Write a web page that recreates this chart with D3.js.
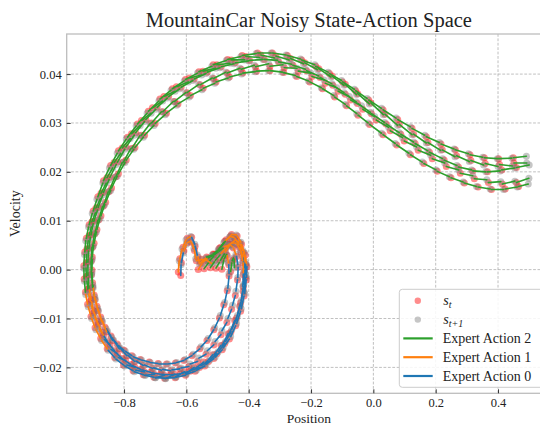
<!DOCTYPE html>
<html>
<head>
<meta charset="utf-8">
<script src="https://d3js.org/d3.v7.min.js"></script>
<style>
body { margin: 0; background: #fff; }
text { font-family: "Liberation Serif", "DejaVu Serif", serif; fill: #222; }
</style>
</head>
<body>
<script>
//axis limits and tick values
var xLim = [-0.984, 0.570],
    yLim = [-0.0253, 0.0482];
var xTicks = [-0.8, -0.6, -0.4, -0.2, 0.0, 0.2, 0.4];
var yTicks = [-0.02, -0.01, 0.00, 0.01, 0.02, 0.03, 0.04];
var actionNames = ["Expert Action 0", "Expert Action 1", "Expert Action 2"];
var actionColors = ["#1f77b4", "#ff7f0e", "#2ca02c"];

//transitions: [position_t, velocity_t, position_t+1, velocity_t+1, action]
var episode1 = [
    [-0.626,-0.0005,-0.623,0.0018,1],[-0.621,0.0022,-0.614,0.0042,1],[-0.611,0.0046,-0.601,0.0061,1],
    [-0.597,0.0064,-0.586,0.0068,1],[-0.583,0.0066,-0.573,0.0052,0],[-0.572,0.0048,-0.565,0.0030,0],
    [-0.563,0.0026,-0.558,0.0012,1],[-0.555,0.0014,-0.537,0.0024,1],[-0.535,0.0026,-0.517,0.0030,2],
    [-0.514,0.0032,-0.498,0.0040,2],[-0.495,0.0043,-0.480,0.0055,2],[-0.477,0.0058,-0.462,0.0066,1],
    [-0.459,0.0068,-0.447,0.0066,1],[-0.444,0.0064,-0.431,0.0050,1],[-0.428,0.0046,-0.420,0.0028,1],
    [-0.418,0.0024,-0.414,0.0004,0],
    [-0.413,-0.0002,-0.416,-0.0030,0],[-0.417,-0.0035,-0.424,-0.0063,0],[-0.426,-0.0068,-0.436,-0.0094,0],
    [-0.439,-0.0099,-0.454,-0.0122,0],[-0.457,-0.0127,-0.474,-0.0147,0],[-0.477,-0.0151,-0.498,-0.0168,0],
    [-0.502,-0.0172,-0.525,-0.0185,0],[-0.529,-0.0188,-0.554,-0.0197,0],[-0.558,-0.0200,-0.584,-0.0206,0],
    [-0.588,-0.0208,-0.615,-0.0212,0],[-0.619,-0.0213,-0.647,-0.0215,0],[-0.651,-0.0215,-0.679,-0.0214,0],
    [-0.683,-0.0214,-0.711,-0.0211,0],[-0.715,-0.0210,-0.743,-0.0205,0],[-0.747,-0.0204,-0.774,-0.0196,0],
    [-0.778,-0.0194,-0.802,-0.0184,0],[-0.806,-0.0182,-0.828,-0.0169,0],[-0.831,-0.0166,-0.850,-0.0151,0],
    [-0.853,-0.0148,-0.869,-0.0131,0],[-0.871,-0.0128,-0.884,-0.0110,1],[-0.886,-0.0106,-0.896,-0.0088,1],
    [-0.898,-0.0084,-0.904,-0.0066,1],[-0.906,-0.0061,-0.911,-0.0042,1],[-0.913,-0.0038,-0.915,-0.0017,2],
    [-0.916,-0.0012,-0.916,0.0010,2],
    [-0.916,0.0015,-0.914,0.0038,2],[-0.913,0.0043,-0.908,0.0066,2],[-0.906,0.0071,-0.899,0.0094,2],
    [-0.897,0.0099,-0.885,0.0122,2],[-0.883,0.0127,-0.868,0.0153,2],[-0.866,0.0158,-0.848,0.0184,2],
    [-0.845,0.0189,-0.825,0.0215,2],[-0.821,0.0220,-0.798,0.0246,2],[-0.794,0.0251,-0.767,0.0275,2],
    [-0.763,0.0280,-0.734,0.0303,2],[-0.730,0.0307,-0.698,0.0328,2],[-0.694,0.0332,-0.661,0.0351,2],
    [-0.657,0.0354,-0.621,0.0370,2],[-0.617,0.0373,-0.579,0.0387,2],[-0.575,0.0390,-0.537,0.0401,2],
    [-0.533,0.0404,-0.492,0.0413,2],[-0.488,0.0415,-0.447,0.0421,2],[-0.443,0.0423,-0.400,0.0427,2],
    [-0.397,0.0428,-0.354,0.0430,2],[-0.350,0.0430,-0.307,0.0428,2],[-0.304,0.0425,-0.262,0.0420,2],
    [-0.258,0.0418,-0.218,0.0410,2],[-0.214,0.0407,-0.175,0.0396,2],[-0.171,0.0393,-0.133,0.0380,2],
    [-0.130,0.0377,-0.094,0.0362,2],[-0.090,0.0359,-0.055,0.0343,2],[-0.051,0.0340,-0.010,0.0322,2],
    [-0.006,0.0319,0.036,0.0301,2],[0.041,0.0298,0.083,0.0280,2],[0.088,0.0277,0.129,0.0261,2],
    [0.134,0.0258,0.175,0.0243,2],[0.180,0.0240,0.222,0.0227,2],[0.227,0.0224,0.268,0.0213,2],
    [0.273,0.0210,0.315,0.0204,2],[0.319,0.0202,0.361,0.0200,2],[0.366,0.0200,0.407,0.0202,2],
    [0.412,0.0204,0.454,0.0208,2],[0.459,0.0209,0.500,0.0214,2]
];

var episode2 = [
    [-0.543,0.0002,-0.529,0.0014,2],[-0.526,0.0017,-0.512,0.0028,2],[-0.509,0.0031,-0.493,0.0043,2],
    [-0.490,0.0046,-0.475,0.0058,2],[-0.472,0.0061,-0.457,0.0070,1],[-0.455,0.0072,-0.440,0.0071,1],
    [-0.437,0.0069,-0.425,0.0056,1],[-0.423,0.0052,-0.413,0.0034,1],[-0.411,0.0030,-0.407,0.0010,1],
    [-0.406,0.0006,-0.407,-0.0016,0],
    [-0.408,-0.0021,-0.413,-0.0049,0],[-0.415,-0.0054,-0.424,-0.0080,0],[-0.426,-0.0085,-0.439,-0.0110,0],
    [-0.442,-0.0115,-0.458,-0.0137,0],[-0.462,-0.0142,-0.482,-0.0160,0],[-0.485,-0.0164,-0.508,-0.0179,0],
    [-0.512,-0.0182,-0.537,-0.0194,0],[-0.541,-0.0197,-0.568,-0.0206,0],[-0.572,-0.0208,-0.600,-0.0214,0],
    [-0.603,-0.0216,-0.633,-0.0220,0],[-0.636,-0.0221,-0.666,-0.0222,0],[-0.670,-0.0222,-0.700,-0.0221,0],
    [-0.704,-0.0220,-0.734,-0.0216,0],[-0.738,-0.0215,-0.767,-0.0209,0],[-0.771,-0.0207,-0.798,-0.0197,0],
    [-0.802,-0.0195,-0.826,-0.0183,0],[-0.830,-0.0180,-0.851,-0.0165,0],[-0.854,-0.0162,-0.872,-0.0145,1],
    [-0.875,-0.0141,-0.890,-0.0123,1],[-0.893,-0.0119,-0.904,-0.0100,1],[-0.906,-0.0096,-0.915,-0.0076,1],
    [-0.917,-0.0071,-0.923,-0.0051,1],[-0.924,-0.0046,-0.927,-0.0024,2],[-0.928,-0.0019,-0.929,0.0003,2],
    [-0.929,0.0008,-0.927,0.0031,2],[-0.926,0.0036,-0.923,0.0059,2],[-0.921,0.0064,-0.914,0.0087,2],
    [-0.912,0.0092,-0.902,0.0115,2],[-0.899,0.0120,-0.887,0.0144,2],[-0.884,0.0149,-0.868,0.0177,2],
    [-0.866,0.0182,-0.847,0.0208,2],[-0.843,0.0213,-0.822,0.0238,2],[-0.818,0.0243,-0.793,0.0267,2],
    [-0.789,0.0271,-0.761,0.0294,2],[-0.757,0.0298,-0.726,0.0320,2],[-0.722,0.0324,-0.688,0.0345,2],
    [-0.685,0.0349,-0.649,0.0367,2],[-0.645,0.0370,-0.607,0.0386,2],[-0.603,0.0389,-0.564,0.0402,2],
    [-0.560,0.0405,-0.518,0.0416,2],[-0.514,0.0419,-0.472,0.0428,2],[-0.468,0.0430,-0.425,0.0436,2],
    [-0.421,0.0438,-0.376,0.0442,2],[-0.372,0.0443,-0.328,0.0443,2],[-0.324,0.0443,-0.280,0.0439,2],
    [-0.276,0.0438,-0.234,0.0431,2],[-0.230,0.0429,-0.188,0.0419,2],[-0.185,0.0416,-0.145,0.0404,2],
    [-0.141,0.0401,-0.102,0.0387,2],[-0.099,0.0384,-0.061,0.0369,2],[-0.057,0.0366,-0.020,0.0350,2],
    [-0.015,0.0347,0.026,0.0330,2],[0.031,0.0327,0.073,0.0310,2],[0.078,0.0307,0.119,0.0292,2],
    [0.124,0.0289,0.165,0.0275,2],[0.170,0.0272,0.212,0.0260,2],[0.217,0.0257,0.259,0.0247,2],
    [0.263,0.0245,0.305,0.0237,2],[0.310,0.0235,0.351,0.0230,2],[0.356,0.0229,0.398,0.0227,2],
    [0.402,0.0227,0.444,0.0228,2],[0.449,0.0229,0.491,0.0232,2]
];

var episode3 = [
    [-0.486,0.0001,-0.480,0.0019,2],[-0.479,0.0022,-0.471,0.0031,2],[-0.469,0.0029,-0.465,0.0014,1],
    [-0.464,0.0010,-0.463,-0.0008,0],
    [-0.463,-0.0013,-0.467,-0.0038,0],[-0.469,-0.0043,-0.477,-0.0067,0],[-0.480,-0.0072,-0.491,-0.0094,0],
    [-0.494,-0.0099,-0.509,-0.0119,0],[-0.512,-0.0123,-0.530,-0.0141,0],[-0.534,-0.0145,-0.553,-0.0158,0],
    [-0.557,-0.0162,-0.578,-0.0173,0],[-0.582,-0.0176,-0.604,-0.0184,0],[-0.608,-0.0186,-0.631,-0.0190,0],
    [-0.635,-0.0191,-0.660,-0.0193,0],[-0.664,-0.0193,-0.688,-0.0193,0],[-0.691,-0.0192,-0.716,-0.0190,0],
    [-0.719,-0.0189,-0.744,-0.0185,0],[-0.748,-0.0184,-0.771,-0.0178,0],[-0.775,-0.0176,-0.796,-0.0167,0],
    [-0.800,-0.0165,-0.819,-0.0155,0],[-0.822,-0.0152,-0.840,-0.0139,0],[-0.842,-0.0136,-0.858,-0.0121,0],
    [-0.861,-0.0118,-0.873,-0.0101,1],[-0.875,-0.0097,-0.885,-0.0079,1],[-0.887,-0.0075,-0.894,-0.0056,1],
    [-0.896,-0.0052,-0.900,-0.0032,2],[-0.901,-0.0027,-0.903,-0.0006,2],[-0.903,-0.0001,-0.902,0.0021,2],
    [-0.902,0.0026,-0.898,0.0049,2],[-0.896,0.0054,-0.889,0.0077,2],[-0.887,0.0082,-0.877,0.0105,2],
    [-0.874,0.0110,-0.862,0.0133,2],[-0.859,0.0138,-0.843,0.0162,2],[-0.840,0.0167,-0.822,0.0191,2],
    [-0.818,0.0196,-0.797,0.0219,2],[-0.793,0.0224,-0.769,0.0246,2],[-0.765,0.0250,-0.738,0.0271,2],
    [-0.734,0.0275,-0.704,0.0295,2],[-0.700,0.0299,-0.668,0.0317,2],[-0.664,0.0320,-0.631,0.0336,2],
    [-0.627,0.0339,-0.591,0.0353,2],[-0.587,0.0356,-0.550,0.0368,2],[-0.546,0.0371,-0.509,0.0381,2],
    [-0.505,0.0384,-0.466,0.0392,2],[-0.462,0.0394,-0.423,0.0400,2],[-0.419,0.0402,-0.379,0.0405,2],
    [-0.375,0.0406,-0.336,0.0407,2],[-0.332,0.0407,-0.292,0.0404,2],[-0.288,0.0403,-0.250,0.0397,2],
    [-0.246,0.0395,-0.208,0.0386,2],[-0.204,0.0384,-0.167,0.0372,2],[-0.163,0.0370,-0.127,0.0356,2],
    [-0.124,0.0353,-0.090,0.0338,2],[-0.086,0.0335,-0.053,0.0319,2],[-0.049,0.0316,-0.017,0.0300,2],
    [-0.012,0.0297,0.026,0.0279,2],[0.031,0.0276,0.070,0.0258,2],[0.075,0.0255,0.114,0.0238,2],
    [0.119,0.0235,0.157,0.0220,2],[0.162,0.0217,0.201,0.0204,2],[0.205,0.0201,0.244,0.0190,2],
    [0.249,0.0188,0.288,0.0179,2],[0.292,0.0177,0.331,0.0170,2],[0.336,0.0169,0.375,0.0165,2],
    [0.379,0.0164,0.418,0.0164,2],[0.423,0.0165,0.462,0.0169,2],[0.466,0.0170,0.497,0.0175,2]
];

var episode4 = [
    [-0.505,0.0003,-0.494,0.0015,2],[-0.491,0.0019,-0.478,0.0032,2],[-0.475,0.0036,-0.462,0.0049,1],
    [-0.459,0.0052,-0.446,0.0059,1],[-0.443,0.0061,-0.431,0.0056,1],[-0.428,0.0053,-0.419,0.0039,1],
    [-0.417,0.0035,-0.411,0.0016,1],[-0.410,0.0011,-0.410,-0.0010,0],
    [-0.411,-0.0016,-0.415,-0.0045,0],[-0.418,-0.0044,-0.427,-0.0074,0],[-0.429,-0.0075,-0.441,-0.0104,0],
    [-0.445,-0.0104,-0.462,-0.0131,0],[-0.466,-0.0131,-0.485,-0.0155,0],[-0.489,-0.0155,-0.511,-0.0174,0],
    [-0.515,-0.0174,-0.540,-0.0192,0],[-0.544,-0.0189,-0.571,-0.0202,0],[-0.575,-0.0200,-0.602,-0.0213,0],
    [-0.606,-0.0209,-0.634,-0.0219,0],[-0.638,-0.0214,-0.667,-0.0223,0],[-0.671,-0.0216,-0.699,-0.0221,0],
    [-0.703,-0.0214,-0.731,-0.0216,0],[-0.735,-0.0209,-0.762,-0.0206,0],[-0.766,-0.0199,-0.791,-0.0195,0],
    [-0.795,-0.0186,-0.818,-0.0180,0],[-0.821,-0.0172,-0.842,-0.0163,0],[-0.845,-0.0154,-0.863,-0.0143,0],
    [-0.866,-0.0134,-0.880,-0.0121,1],[-0.883,-0.0112,-0.894,-0.0097,1],[-0.897,-0.0088,-0.905,-0.0074,1],
    [-0.908,-0.0064,-0.914,-0.0050,1],[-0.916,-0.0040,-0.919,-0.0024,2],[-0.921,-0.0014,-0.922,0.0003,2],
    [-0.921,0.0014,-0.920,0.0031,2],[-0.919,0.0042,-0.915,0.0059,2],[-0.912,0.0070,-0.905,0.0087,2],
    [-0.903,0.0098,-0.892,0.0116,2],[-0.890,0.0126,-0.876,0.0145,2],[-0.874,0.0156,-0.857,0.0177,2],
    [-0.855,0.0188,-0.836,0.0208,2],[-0.832,0.0219,-0.810,0.0238,2],[-0.806,0.0249,-0.780,0.0268,2],
    [-0.776,0.0278,-0.748,0.0295,2],[-0.744,0.0305,-0.713,0.0320,2],[-0.709,0.0331,-0.676,0.0345,2],
    [-0.672,0.0354,-0.636,0.0365,2],[-0.632,0.0374,-0.594,0.0384,2],[-0.590,0.0392,-0.551,0.0398,2],
    [-0.547,0.0406,-0.506,0.0412,2],[-0.502,0.0419,-0.460,0.0422,2],[-0.456,0.0429,-0.413,0.0429,2],
    [-0.409,0.0436,-0.365,0.0434,2],[-0.361,0.0439,-0.317,0.0433,2],[-0.313,0.0437,-0.270,0.0429,2],
    [-0.266,0.0432,-0.224,0.0421,2],[-0.220,0.0423,-0.179,0.0409,2],[-0.175,0.0411,-0.136,0.0394,2],
    [-0.132,0.0396,-0.094,0.0377,2],[-0.090,0.0379,-0.054,0.0358,2],[-0.050,0.0360,-0.013,0.0339,2],
    [-0.008,0.0341,0.032,0.0317,2],[0.037,0.0318,0.078,0.0295,2],[0.083,0.0297,0.124,0.0276,2],
    [0.129,0.0277,0.170,0.0259,2],[0.175,0.0260,0.216,0.0244,2],[0.221,0.0245,0.262,0.0231,2],
    [0.267,0.0233,0.308,0.0221,2],[0.313,0.0223,0.354,0.0214,2],[0.359,0.0217,0.400,0.0211,2],
    [0.405,0.0215,0.446,0.0212,2],[0.451,0.0218,0.492,0.0218,2]
];

var episode5 = [
    [-0.562,0.0000,-0.550,0.0012,1],[-0.547,0.0015,-0.533,0.0022,1],[-0.530,0.0024,-0.515,0.0029,2],
    [-0.512,0.0031,-0.498,0.0036,2],[-0.495,0.0038,-0.482,0.0044,2],[-0.479,0.0047,-0.466,0.0050,1],
    [-0.463,0.0052,-0.452,0.0047,1],[-0.449,0.0044,-0.441,0.0031,1],[-0.439,0.0027,-0.435,0.0010,0],
    [-0.434,0.0005,-0.435,-0.0016,0],
    [-0.436,-0.0021,-0.441,-0.0044,0],[-0.443,-0.0053,-0.452,-0.0073,0],[-0.455,-0.0081,-0.467,-0.0100,0],
    [-0.470,-0.0108,-0.486,-0.0125,0],[-0.489,-0.0133,-0.508,-0.0147,0],[-0.512,-0.0154,-0.533,-0.0166,0],
    [-0.537,-0.0173,-0.560,-0.0181,0],[-0.564,-0.0188,-0.588,-0.0193,0],[-0.592,-0.0198,-0.617,-0.0201,0],
    [-0.621,-0.0203,-0.646,-0.0205,0],[-0.650,-0.0207,-0.676,-0.0204,0],[-0.680,-0.0206,-0.705,-0.0201,0],
    [-0.709,-0.0202,-0.734,-0.0195,0],[-0.738,-0.0196,-0.762,-0.0187,0],[-0.766,-0.0188,-0.788,-0.0175,0],
    [-0.791,-0.0176,-0.812,-0.0161,0],[-0.815,-0.0162,-0.834,-0.0144,0],[-0.836,-0.0145,-0.853,-0.0126,0],
    [-0.856,-0.0127,-0.869,-0.0106,1],[-0.872,-0.0106,-0.882,-0.0084,1],[-0.884,-0.0084,-0.892,-0.0061,1],
    [-0.894,-0.0061,-0.899,-0.0037,1],[-0.901,-0.0036,-0.904,-0.0011,2],[-0.905,-0.0010,-0.906,0.0016,2],
    [-0.905,0.0018,-0.903,0.0045,2],[-0.901,0.0046,-0.895,0.0073,2],[-0.893,0.0074,-0.884,0.0101,2],
    [-0.881,0.0102,-0.869,0.0129,2],[-0.866,0.0130,-0.851,0.0159,2],[-0.848,0.0160,-0.830,0.0189,2],
    [-0.826,0.0190,-0.806,0.0219,2],[-0.802,0.0220,-0.779,0.0247,2],[-0.775,0.0248,-0.749,0.0274,2],
    [-0.745,0.0275,-0.716,0.0299,2],[-0.712,0.0300,-0.680,0.0323,2],[-0.676,0.0323,-0.642,0.0344,2],
    [-0.638,0.0344,-0.602,0.0362,2],[-0.598,0.0362,-0.560,0.0379,2],[-0.556,0.0378,-0.517,0.0392,2],
    [-0.513,0.0391,-0.473,0.0404,2],[-0.469,0.0402,-0.428,0.0412,2],[-0.424,0.0410,-0.382,0.0418,2],
    [-0.378,0.0415,-0.336,0.0421,2],[-0.332,0.0416,-0.290,0.0419,2],[-0.286,0.0413,-0.245,0.0412,2],
    [-0.241,0.0406,-0.201,0.0402,2],[-0.197,0.0395,-0.158,0.0388,2],[-0.154,0.0381,-0.117,0.0372,2],
    [-0.113,0.0365,-0.077,0.0354,2],[-0.073,0.0347,-0.038,0.0335,2],[-0.034,0.0328,0.004,0.0313,2],
    [0.009,0.0306,0.049,0.0291,2],[0.054,0.0284,0.094,0.0270,2],[0.099,0.0263,0.139,0.0251,2],
    [0.144,0.0244,0.184,0.0234,2],[0.189,0.0227,0.229,0.0218,2],[0.234,0.0211,0.274,0.0204,2],
    [0.279,0.0197,0.319,0.0192,2],[0.324,0.0186,0.364,0.0184,2],[0.369,0.0178,0.409,0.0180,2],
    [0.414,0.0175,0.454,0.0181,2],[0.459,0.0178,0.499,0.0187,2]
];

//short pieces around the valley
var valleyLeft = [
    [-0.618,-0.0012,-0.617,0.0010,0],[-0.616,0.0014,-0.610,0.0034,0],[-0.608,0.0038,-0.600,0.0052,1],
    [-0.597,0.0055,-0.587,0.0058,1],[-0.584,0.0056,-0.576,0.0043,1],[-0.574,0.0039,-0.570,0.0022,1],
    [-0.568,0.0018,-0.554,0.0020,1],[-0.551,0.0021,-0.535,0.0019,1],[-0.532,0.0018,-0.517,0.0012,1]
];
var valleyRight = [
    [-0.523,0.0004,-0.510,0.0016,2],[-0.507,0.0019,-0.492,0.0030,2],[-0.489,0.0033,-0.475,0.0043,1],
    [-0.472,0.0046,-0.457,0.0053,1],[-0.455,0.0055,-0.441,0.0054,1],[-0.438,0.0052,-0.427,0.0040,1],
    [-0.425,0.0036,-0.419,0.0018,1],[-0.418,0.0014,-0.417,-0.0006,1],[-0.417,-0.0010,-0.419,-0.0034,0],
    [-0.458,-0.0004,-0.454,0.0014,2],[-0.453,0.0018,-0.449,0.0024,2],[-0.447,0.0021,-0.446,0.0004,2]
];

var transitions = episode1.concat(episode2, episode3, episode4, episode5, valleyLeft, valleyRight);

//frame dimensions
var svgWidth = 540,
    svgHeight = 426,
    plotLeft = 66.7,
    plotRight = 551,
    plotTop = 34,
    plotBottom = 393.3;

var svg = d3.select("body")
    .append("svg")
    .attr("width", svgWidth)
    .attr("height", svgHeight);

var x = d3.scaleLinear().domain(xLim).range([plotLeft, plotRight]);
var y = d3.scaleLinear().domain(yLim).range([plotBottom, plotTop]);

svg.append("clipPath")
    .attr("id", "plotClip")
    .append("rect")
    .attr("x", plotLeft)
    .attr("y", plotTop)
    .attr("width", plotRight - plotLeft)
    .attr("height", plotBottom - plotTop);

//dashed grid
var grid = svg.append("g").attr("class", "grid");
grid.selectAll(".vgrid")
    .data(xTicks)
    .enter()
    .append("line")
    .attr("x1", function(d){ return x(d); })
    .attr("x2", function(d){ return x(d); })
    .attr("y1", plotTop)
    .attr("y2", plotBottom);
grid.selectAll(".hgrid")
    .data(yTicks)
    .enter()
    .append("line")
    .attr("x1", plotLeft)
    .attr("x2", plotRight)
    .attr("y1", function(d){ return y(d); })
    .attr("y2", function(d){ return y(d); });
grid.selectAll("line")
    .attr("stroke", "#b0b0b0")
    .attr("stroke-width", 0.8)
    .attr("stroke-dasharray", "2.8,1.6");

var plot = svg.append("g").attr("clip-path", "url(#plotClip)");

//states s_t
plot.selectAll(".st")
    .data(transitions)
    .enter()
    .append("circle")
    .attr("cx", function(d){ return x(d[0]); })
    .attr("cy", function(d){ return y(d[1]); })
    .attr("r", 3.5)
    .attr("fill", "red")
    .attr("fill-opacity", 0.45);

//next states s_t+1
plot.selectAll(".st1")
    .data(transitions)
    .enter()
    .append("circle")
    .attr("cx", function(d){ return x(d[2]); })
    .attr("cy", function(d){ return y(d[3]); })
    .attr("r", 3.5)
    .attr("fill", "gray")
    .attr("fill-opacity", 0.45);

//transition segments coloured by expert action
plot.selectAll(".seg")
    .data(transitions)
    .enter()
    .append("line")
    .attr("x1", function(d){ return x(d[0]); })
    .attr("y1", function(d){ return y(d[1]); })
    .attr("x2", function(d){ return x(d[2]); })
    .attr("y2", function(d){ return y(d[3]); })
    .attr("stroke", function(d){ return actionColors[d[4]]; })
    .attr("stroke-width", 1.6)
    .attr("stroke-linecap", "round");

//frame
svg.append("rect")
    .attr("x", plotLeft)
    .attr("y", plotTop)
    .attr("width", plotRight - plotLeft)
    .attr("height", plotBottom - plotTop)
    .attr("fill", "none")
    .attr("stroke", "#bdbdbd")
    .attr("stroke-width", 1.3);

//axes with inward ticks
var xAxis = d3.axisBottom(x)
    .tickValues(xTicks)
    .tickFormat(d3.format(".1f"))
    .tickSizeInner(-4)
    .tickSizeOuter(0)
    .tickPadding(4.5);
var gx = svg.append("g")
    .attr("transform", "translate(0," + plotBottom + ")")
    .call(xAxis);

var yAxis = d3.axisLeft(y)
    .tickValues(yTicks)
    .tickFormat(d3.format(".2f"))
    .tickSizeInner(-4)
    .tickSizeOuter(0)
    .tickPadding(5);
var gy = svg.append("g")
    .attr("transform", "translate(" + plotLeft + ",0)")
    .call(yAxis);

[gx, gy].forEach(function(g){
    g.select(".domain").remove();
    g.selectAll(".tick line").attr("stroke", "#222").attr("stroke-width", 0.9);
    g.selectAll(".tick text")
        .attr("font-family", "Liberation Serif, DejaVu Serif, serif")
        .attr("font-size", 12.5)
        .attr("fill", "#222");
});

//titles
svg.append("text")
    .attr("x", (plotLeft + plotRight) / 2)
    .attr("y", 27)
    .attr("text-anchor", "middle")
    .attr("font-size", 20.5)
    .text("MountainCar Noisy State-Action Space");

svg.append("text")
    .attr("x", (plotLeft + plotRight) / 2)
    .attr("y", 422.5)
    .attr("text-anchor", "middle")
    .attr("font-size", 13.5)
    .text("Position");

svg.append("text")
    .attr("transform", "translate(20," + (plotTop + plotBottom) / 2 + ") rotate(-90)")
    .attr("text-anchor", "middle")
    .attr("font-size", 14)
    .text("Velocity");

//legend
var legend = svg.append("g").attr("transform", "translate(399.3,289.3)");
legend.append("rect")
    .attr("width", 160)
    .attr("height", 98)
    .attr("rx", 3)
    .attr("fill", "#fff")
    .attr("fill-opacity", 0.85)
    .attr("stroke", "#cccccc")
    .attr("stroke-width", 1);

var legendRows = [
    {type: "dot", color: "red", label: "s", sub: "t"},
    {type: "dot", color: "gray", label: "s", sub: "t+1"},
    {type: "line", color: actionColors[2], label: actionNames[2]},
    {type: "line", color: actionColors[1], label: actionNames[1]},
    {type: "line", color: actionColors[0], label: actionNames[0]}
];

legendRows.forEach(function(row, i){
    var cy = 11.5 + i * 18.8;
    if (row.type == "dot"){
        legend.append("circle")
            .attr("cx", 18.5)
            .attr("cy", cy)
            .attr("r", 3.2)
            .attr("fill", row.color)
            .attr("fill-opacity", 0.45);
        var t = legend.append("text")
            .attr("x", 44)
            .attr("y", cy + 4)
            .attr("font-size", 14);
        t.append("tspan").attr("font-style", "italic").text(row.label);
        t.append("tspan")
            .attr("font-style", "italic")
            .attr("font-size", 10)
            .attr("dy", 3)
            .text(row.sub);
    } else {
        legend.append("line")
            .attr("x1", 4)
            .attr("x2", 33.4)
            .attr("y1", cy)
            .attr("y2", cy)
            .attr("stroke", row.color)
            .attr("stroke-width", 2.2);
        legend.append("text")
            .attr("x", 43.4)
            .attr("y", cy + 5)
            .attr("font-size", 14)
            .text(row.label);
    }
});
</script>
</body>
</html>
